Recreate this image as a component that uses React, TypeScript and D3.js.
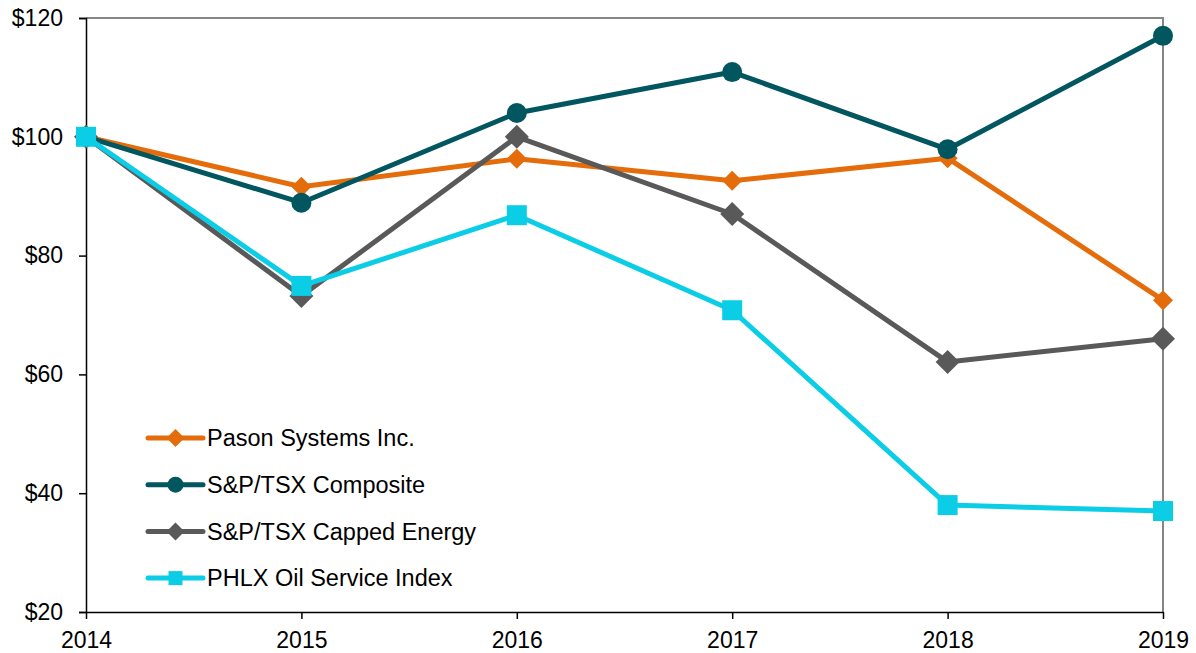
import React, { useRef, useEffect } from "react";
import * as d3 from "d3";

const years = ["2014", "2015", "2016", "2017", "2018", "2019"];
const yTicks = [20, 40, 60, 80, 100, 120];

const pason = [100, 91.6, 96.3, 92.6, 96.4, 72.5];
const tsxComposite = [100, 88.9, 104, 110.9, 97.9, 117];
const tsxEnergy = [100, 73.2, 100, 87, 62.1, 66];
const phlx = [100, 74.9, 86.8, 70.8, 38, 37];

const seriesList = [
  { name: "Pason Systems Inc.", values: pason, color: "#E46C0A", marker: "diamond", size: 10 },
  { name: "S&P/TSX Composite", values: tsxComposite, color: "#02565F", marker: "circle", size: 10 },
  { name: "S&P/TSX Capped Energy", values: tsxEnergy, color: "#595959", marker: "diamond", size: 12 },
  { name: "PHLX Oil Service Index", values: phlx, color: "#0BCDE6", marker: "square", size: 10 },
];

const App = () => {
  const ref = useRef<SVGSVGElement>(null);
  const width = 1196;
  const height = 653;
  const margin = { top: 18, right: 33, bottom: 41, left: 86 };

  useEffect(() => {
    const svg = d3.select(ref.current);
    svg.selectAll("*").remove();

    const x = d3
      .scalePoint()
      .domain(years)
      .range([margin.left, width - margin.right]);
    const y = d3
      .scaleLinear()
      .domain([20, 120])
      .range([height - margin.bottom, margin.top]);

    const font = "'Liberation Sans', Arial, sans-serif";

    // top and right frame
    svg
      .append("path")
      .attr("d", `M${margin.left},${margin.top}H${width - margin.right}V${height - margin.bottom}`)
      .attr("fill", "none")
      .attr("stroke", "#868686")
      .attr("stroke-width", 2);

    // y axis
    const yAxis = svg
      .append("g")
      .attr("transform", `translate(${margin.left},0)`)
      .call(
        d3
          .axisLeft(y)
          .tickValues(yTicks)
          .tickFormat((d) => `$${d}`)
          .tickSize(7)
          .tickPadding(16)
      );
    yAxis.select(".domain").attr("stroke", "#000").attr("stroke-width", 1.5);
    yAxis.selectAll(".tick line").attr("stroke", "#000").attr("stroke-width", 1.5);
    yAxis
      .selectAll("text")
      .attr("font-family", font)
      .attr("font-size", 23)
      .attr("fill", "#000");

    // x axis
    const xAxis = svg
      .append("g")
      .attr("transform", `translate(0,${height - margin.bottom})`)
      .call(d3.axisBottom(x).tickSize(7).tickPadding(13).tickSizeOuter(0));
    xAxis.select(".domain").attr("stroke", "#000").attr("stroke-width", 1.5);
    xAxis.selectAll(".tick line").attr("stroke", "#000").attr("stroke-width", 1.5);
    xAxis
      .selectAll("text")
      .attr("font-family", font)
      .attr("font-size", 23)
      .attr("fill", "#000");

    const line = d3
      .line<number>()
      .x((_, i) => x(years[i]) as number)
      .y((d) => y(d));

    const drawMarker = (g: any, cx: number, cy: number, s: any) => {
      if (s.marker === "circle") {
        g.append("circle").attr("cx", cx).attr("cy", cy).attr("r", s.size).attr("fill", s.color);
      } else if (s.marker === "square") {
        g.append("rect")
          .attr("x", cx - s.size)
          .attr("y", cy - s.size)
          .attr("width", s.size * 2)
          .attr("height", s.size * 2)
          .attr("fill", s.color);
      } else {
        const r = s.size;
        g.append("path")
          .attr("d", `M${cx},${cy - r}L${cx + r},${cy}L${cx},${cy + r}L${cx - r},${cy}Z`)
          .attr("fill", s.color);
      }
    };

    seriesList.forEach((s) => {
      const g = svg.append("g");
      g.append("path")
        .datum(s.values)
        .attr("d", line)
        .attr("fill", "none")
        .attr("stroke", s.color)
        .attr("stroke-width", 5)
        .attr("stroke-linejoin", "round");
      s.values.forEach((v, i) => drawMarker(g, x(years[i]) as number, y(v), s));
    });

    // legend
    const legend = svg.append("g").attr("transform", "translate(148,438)");
    seriesList.forEach((s, i) => {
      const row = legend.append("g").attr("transform", `translate(0,${i * 46.7})`);
      row
        .append("line")
        .attr("x1", 0)
        .attr("x2", 55)
        .attr("stroke", s.color)
        .attr("stroke-width", 5)
        .attr("stroke-linecap", "round");
      drawMarker(row, 27.5, 0, { ...s, size: s.marker === "circle" ? 8 : s.marker === "square" ? 7 : 9 });
      row
        .append("text")
        .attr("x", 59)
        .attr("y", 0)
        .attr("dy", "0.35em")
        .attr("font-family", font)
        .attr("font-size", 23.5)
        .attr("fill", "#000")
        .text(s.name);
    });
  }, []);

  return (
    <svg
      ref={ref}
      width={width}
      height={height}
      style={{ display: "block", position: "absolute", left: 0, top: 0, overflow: "visible" }}
    ></svg>
  );
};

export default App;
